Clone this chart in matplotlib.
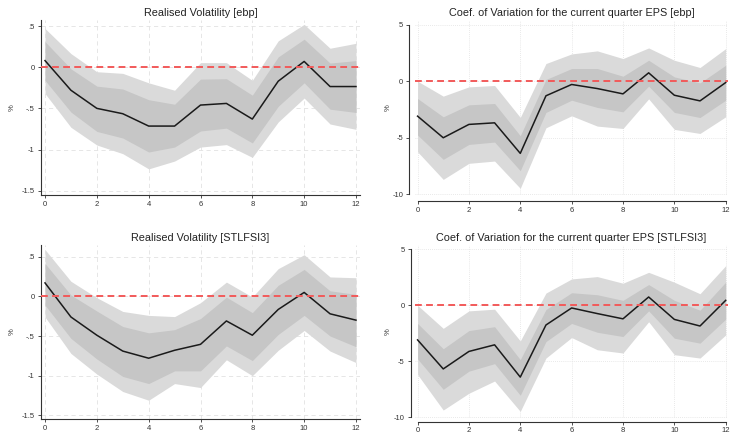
import numpy as np
import matplotlib
matplotlib.use("Agg")
import matplotlib.pyplot as plt

plt.rcParams["font.family"] = ["Liberation Sans", "DejaVu Sans"]

horizon = list(range(13))

# Realised Volatility [ebp]
rv_ebp = [0.08, -0.28, -0.50, -0.565, -0.715, -0.715, -0.46, -0.44, -0.63, -0.17, 0.07, -0.235, -0.235]
rv_ebp_in_hi = [0.31, -0.02, -0.23, -0.265, -0.395, -0.45, -0.145, -0.14, -0.34, 0.125, 0.34, 0.05, 0.08]
rv_ebp_in_lo = [-0.16, -0.545, -0.78, -0.86, -1.03, -0.97, -0.775, -0.74, -0.92, -0.475, -0.19, -0.51, -0.55]
rv_ebp_out_hi = [0.47, 0.165, -0.055, -0.075, -0.19, -0.28, 0.055, 0.055, -0.16, 0.32, 0.52, 0.23, 0.29]
rv_ebp_out_lo = [-0.32, -0.73, -0.945, -1.05, -1.235, -1.14, -0.97, -0.94, -1.095, -0.665, -0.375, -0.69, -0.755]

# Coef. of Variation [ebp]
cv_ebp = [-3.09, -5.0, -3.82, -3.68, -6.38, -1.29, -0.29, -0.65, -1.12, 0.74, -1.24, -1.74, -0.12]
cv_ebp_in_hi = [-1.53, -3.15, -2.09, -1.97, -4.82, 0.15, 1.12, 1.12, 0.44, 1.85, 0.38, -0.15, 1.41]
cv_ebp_in_lo = [-4.76, -6.91, -5.59, -5.38, -7.91, -2.76, -1.68, -2.32, -2.71, -0.44, -2.76, -3.21, -1.68]
cv_ebp_out_hi = [0.0, -1.32, -0.5, -0.38, -3.2, 1.56, 2.41, 2.68, 2.0, 2.94, 1.85, 1.21, 2.88]
cv_ebp_out_lo = [-6.24, -8.68, -7.26, -7.06, -9.47, -4.12, -3.06, -3.97, -4.18, -1.56, -4.26, -4.62, -3.15]

# Realised Volatility [STLFSI3]
rv_stl = [0.17, -0.26, -0.49, -0.69, -0.78, -0.68, -0.605, -0.31, -0.49, -0.165, 0.05, -0.22, -0.30]
rv_stl_in_hi = [0.415, 0.017, -0.185, -0.38, -0.46, -0.42, -0.28, -0.01, -0.205, 0.14, 0.34, 0.07, 0.025]
rv_stl_in_lo = [-0.11, -0.53, -0.79, -1.01, -1.10, -0.94, -0.94, -0.625, -0.81, -0.48, -0.24, -0.50, -0.635]
rv_stl_out_hi = [0.59, 0.19, -0.017, -0.19, -0.24, -0.255, -0.08, 0.18, -0.008, 0.35, 0.525, 0.245, 0.235]
rv_stl_out_lo = [-0.26, -0.72, -0.98, -1.20, -1.31, -1.10, -1.15, -0.80, -1.0, -0.68, -0.43, -0.69, -0.835]

# Coef. of Variation [STLFSI3]
cv_stl = [-3.09, -5.68, -4.12, -3.53, -6.41, -1.76, -0.24, -0.74, -1.21, 0.74, -1.26, -1.85, 0.44]
cv_stl_in_hi = [-1.62, -3.88, -2.26, -1.91, -4.85, -0.38, 1.12, 0.94, 0.44, 1.85, 0.44, -0.44, 2.06]
cv_stl_in_lo = [-4.79, -7.5, -5.88, -5.21, -8.03, -3.24, -1.62, -2.41, -2.79, -0.5, -2.94, -3.38, -1.24]
cv_stl_out_hi = [0.0, -2.06, -0.5, -0.35, -3.18, 1.09, 2.35, 2.56, 1.97, 2.94, 2.06, 1.03, 3.53]
cv_stl_out_lo = [-6.18, -9.35, -7.85, -6.76, -9.47, -4.71, -2.88, -3.97, -4.26, -1.47, -4.41, -4.71, -2.65]

rv_yticks = [0.5, 0, -0.5, -1, -1.5]
rv_ylabels = [".5", "0", "-.5", "-1", "-1.5"]
cv_yticks = [5, 0, -5, -10]
cv_ylabels = ["5", "0", "-5", "-10"]
xticks = [0, 2, 4, 6, 8, 10, 12]

W, H = 730, 433


def px_axes(fig, left, top, right, bottom):
    return fig.add_axes([left / W, 1 - bottom / H, (right - left) / W, (bottom - top) / H])


def draw_panel(ax, title, line, in_hi, in_lo, out_hi, out_lo, yticks, ylabels,
               ylim, xlim, grid_ls, offset, xpad=2):
    ax.fill_between(horizon, out_lo, out_hi, color="#dadada", lw=0, zorder=1)
    ax.fill_between(horizon, in_lo, in_hi, color="#c6c6c6", lw=0, zorder=2)
    ax.plot(horizon, line, color="#1a1a1a", lw=1.1, zorder=4)
    ax.axhline(0, color="#f25a5a", lw=1.4, ls=(0, (3.5, 2.2)), zorder=5)

    ax.set_xlim(*xlim)
    ax.set_ylim(*ylim)
    ax.set_xticks(xticks)
    ax.set_xticklabels([str(t) for t in xticks])
    ax.set_yticks(yticks)
    ax.set_yticklabels(ylabels)
    ax.grid(True, color="#e2e2e2", lw=0.6, ls=grid_ls, zorder=0)
    ax.set_axisbelow(True)

    for s in ["top", "right"]:
        ax.spines[s].set_visible(False)
    for s in ["left", "bottom"]:
        ax.spines[s].set_linewidth(0.8)
        ax.spines[s].set_color("#333333")
        if offset:
            ax.spines[s].set_position(("outward", offset))
    if offset:
        ax.spines["left"].set_bounds(yticks[-1], yticks[0])
        ax.spines["bottom"].set_bounds(0, 12)

    ax.tick_params(axis="both", length=2.5, width=0.6, labelsize=5.5,
                   colors="#333333", pad=2)
    ax.tick_params(axis="x", pad=xpad)
    ax.set_title(title, fontsize=7.8, pad=3, color="#222222")


fig = plt.figure(figsize=(W / 100, H / 100), dpi=100)

ax1 = px_axes(fig, 41, 20, 360, 195)
draw_panel(ax1, "Realised Volatility [ebp]", rv_ebp, rv_ebp_in_hi, rv_ebp_in_lo,
           rv_ebp_out_hi, rv_ebp_out_lo, rv_yticks, rv_ylabels,
           (-1.552, 0.573), (-0.155, 12.155), (0, (5, 4)), 0)

ax2 = px_axes(fig, 415, 20, 728, 195)
draw_panel(ax2, "Coef. of Variation for the current quarter EPS [ebp]", cv_ebp,
           cv_ebp_in_hi, cv_ebp_in_lo, cv_ebp_out_hi, cv_ebp_out_lo,
           cv_yticks, cv_ylabels, (-10.06, 5.41), (-0.1, 12.09), (0, (1, 1.5)), 4)

ax3 = px_axes(fig, 41, 245, 360, 418.7)
draw_panel(ax3, "Realised Volatility [STLFSI3]", rv_stl, rv_stl_in_hi, rv_stl_in_lo,
           rv_stl_out_hi, rv_stl_out_lo, rv_yticks, rv_ylabels,
           (-1.543, 0.648), (-0.155, 12.155), (0, (5, 4)), 0)

ax4 = px_axes(fig, 415, 245, 728, 418)
draw_panel(ax4, "Coef. of Variation for the current quarter EPS [STLFSI3]", cv_stl,
           cv_stl_in_hi, cv_stl_in_lo, cv_stl_out_hi, cv_stl_out_lo,
           cv_yticks, cv_ylabels, (-10.06, 5.38), (-0.1, 12.09), (0, (1, 1.5)), 3,
           xpad=0.8)

for x, y in [(12, 108), (388, 108), (12, 332), (388, 332)]:
    fig.text(x / W, 1 - y / H, "%", fontsize=5.5, rotation=90,
             ha="center", va="center", color="#333333")

fig.savefig("out.png", dpi=100)
